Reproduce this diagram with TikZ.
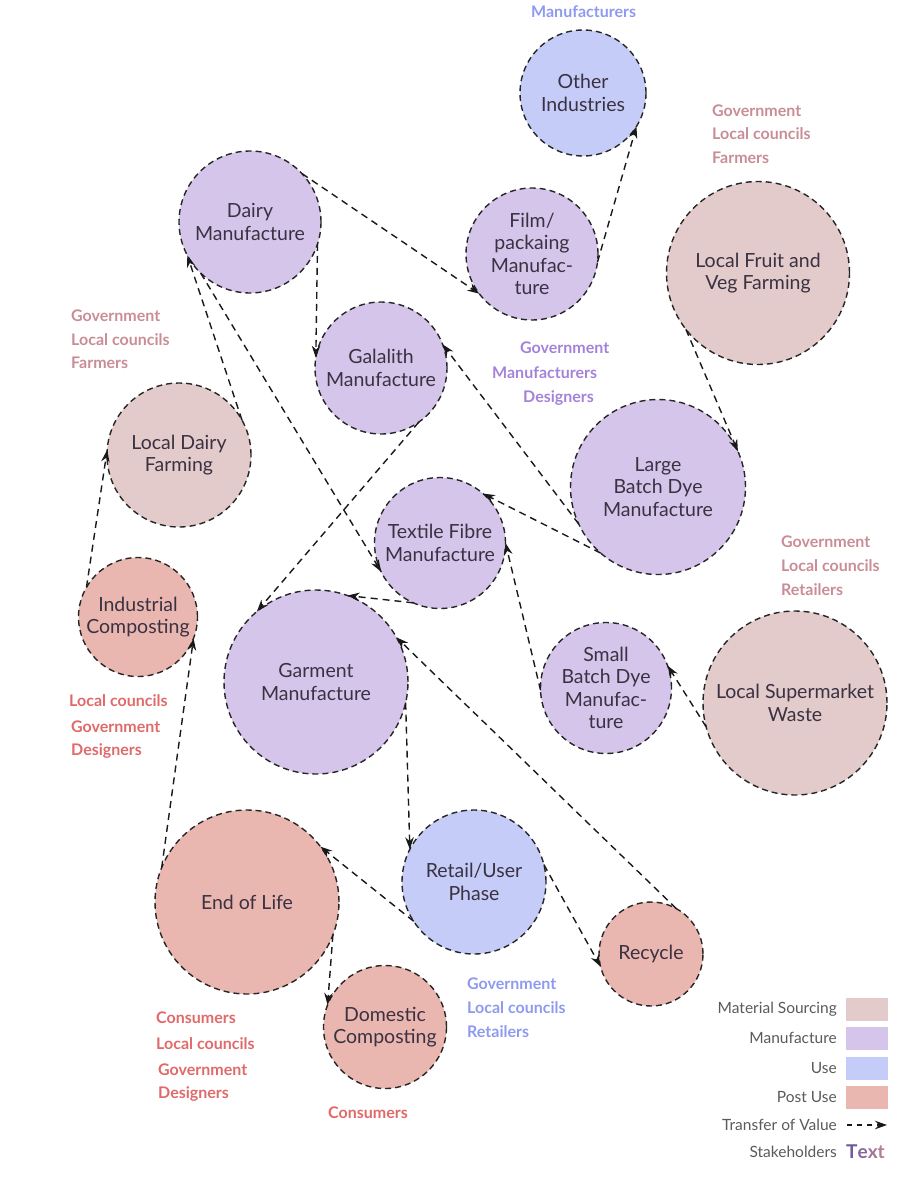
\documentclass[tikz,border=0pt]{standalone}
\usepackage{fontspec}
\setmainfont{Lato}
\usetikzlibrary{arrows.meta}
\definecolor{cmat}{HTML}{E3CACB}
\definecolor{cman}{HTML}{D5C5EA}
\definecolor{cuse}{HTML}{C5CCF8}
\definecolor{cpost}{HTML}{EAB6B0}
\definecolor{tmat}{HTML}{C98D96}
\definecolor{tman}{HTML}{A582D8}
\definecolor{tuse}{HTML}{8E9AF0}
\definecolor{tpost}{HTML}{E06A6A}
\definecolor{ink}{HTML}{3A3242}
\definecolor{leg}{HTML}{5A5A5A}
\tikzset{
  stage/.style={circle, draw=black!85, dash pattern=on 6pt off 4pt, line width=1.4pt,
    inner sep=0pt, outer sep=0pt, align=center, text=ink, font=\fontsize{19.5}{22.5}\selectfont},
  mat/.style={stage, fill=cmat},
  man/.style={stage, fill=cman},
  use/.style={stage, fill=cuse},
  post/.style={stage, fill=cpost},
  flow/.style={draw=black!90, line width=1.4pt, dash pattern=on 7pt off 5pt,
    -{Stealth[length=12pt,width=8.5pt]}},
  holder/.style={anchor=west, inner sep=0pt, font=\bfseries\fontsize{16}{18}\selectfont},
  legtext/.style={anchor=east, inner sep=0pt, text=leg, font=\fontsize{15.5}{18}\selectfont},
  swatch/.style={minimum width=42pt, minimum height=23pt, inner sep=0pt, draw=none},
}
\begin{document}
\begin{tikzpicture}[x=1pt,y=-1pt]
\useasboundingbox (0,0) rectangle (921,1200);

% stages
\node[use, minimum size=126pt] (oth) at (583,93) {Other\\Industries};
\node[man, minimum size=132pt] (film) at (532,254) {Film/\\packaing\\Manufac-\\ture};
\node[mat, minimum size=183pt] (fruit) at (758,273) {Local Fruit and\\Veg Farming};
\node[man, minimum size=142pt] (dairy) at (250,222) {Dairy\\Manufacture};
\node[man, minimum size=132pt] (gal) at (381,368) {Galalith\\Manufacture};
\node[mat, minimum size=144pt] (ldf) at (179,455) {Local Dairy\\Farming};
\node[man, minimum size=175pt] (large) at (658,487) {Large\\Batch Dye\\Manufacture};
\node[man, minimum size=131pt] (tex) at (440,543) {Textile Fibre\\Manufacture};
\node[man, minimum size=131pt] (small) at (606,688) {Small\\Batch Dye\\Manufac-\\ture};
\node[mat, minimum size=184pt] (super) at (795,703) {Local Supermarket\\Waste};
\node[post, minimum size=119pt] (ind) at (138,617) {Industrial\\Composting};
\node[man, minimum size=184pt] (gar) at (316,682) {Garment\\Manufacture};
\node[use, minimum size=144pt] (ret) at (474,882) {Retail/User\\Phase};
\node[post, minimum size=184pt] (eol) at (247,902) {End of Life};
\node[post, minimum size=104pt] (rec) at (651,954) {Recycle};
\node[post, minimum size=123pt] (dom) at (385,1027) {Domestic\\Composting};

% transfers of value
\draw[flow] (film.-7) -- (oth.-32);
\draw[flow] (dairy.43) -- (film.217);
\draw[flow] (dairy.-18) -- (gal.171);
\draw[flow] (ldf.29) -- (dairy.208);
\draw[flow] (dairy.226) -- (tex.206);
\draw[flow] (large.205) -- (gal.21);
\draw[flow] (large.229) -- (tex.49);
\draw[flow] (fruit.218) -- (large.24);
\draw[flow] (small.182) -- (tex.0);
\draw[flow] (super.195) -- (small.20);
\draw[flow] (gal.-55) -- (gar.130);
\draw[flow] (tex.246) -- (gar.70);
\draw[flow] (rec.61) -- (gar.29);
\draw[flow] (gar.-13) -- (ret.153);
\draw[flow] (ret.213) -- (eol.37);
\draw[flow] (ret.14) -- (rec.194);
\draw[flow] (eol.-21) -- (dom.159);
\draw[flow] (eol.158) -- (ind.-21);
\draw[flow] (ind.150) -- (ldf.176);

% stakeholders
\node[holder, text=tuse] (s1) at (531,12) {Manufacturers};
\node[holder, text=tmat] (s2) at (712,111) {Government};
\node[holder, text=tmat] (s3) at (712,134) {Local councils};
\node[holder, text=tmat] (s4) at (712,158) {Farmers};
\node[holder, text=tmat] (s5) at (71,316) {Government};
\node[holder, text=tmat] (s6) at (71,340) {Local councils};
\node[holder, text=tmat] (s7) at (71,363) {Farmers};
\node[holder, text=tman] (s8) at (520,348) {Government};
\node[holder, text=tman] (s9) at (492,373) {Manufacturers};
\node[holder, text=tman] (s10) at (523,398) {Designers};
\node[holder, text=tmat] (s11) at (781,542) {Government};
\node[holder, text=tmat] (s12) at (781,566) {Local councils};
\node[holder, text=tmat] (s13) at (781,590) {Retailers};
\node[holder, text=tpost] (s14) at (69,701) {Local councils};
\node[holder, text=tpost] (s15) at (71,727) {Government};
\node[holder, text=tpost] (s16) at (71,751) {Designers};
\node[holder, text=tpost] (s17) at (156,1018) {Consumers};
\node[holder, text=tpost] (s18) at (156,1044) {Local councils};
\node[holder, text=tpost] (s19) at (158,1070) {Government};
\node[holder, text=tpost] (s20) at (158,1094) {Designers};
\node[holder, text=tpost] (s21) at (328,1113) {Consumers};
\node[holder, text=tuse] (s22) at (467,984) {Government};
\node[holder, text=tuse] (s23) at (467,1008) {Local councils};
\node[holder, text=tuse] (s24) at (467,1032) {Retailers};

% legend
\node[legtext] (l1) at (837,1009) {Material Sourcing};
\node[legtext] (l2) at (837,1038) {Manufacture};
\node[legtext] (l3) at (837,1068) {Use};
\node[legtext] (l4) at (837,1097) {Post Use};
\node[legtext] (l5) at (837,1125) {Transfer of Value};
\node[legtext] (l6) at (837,1152) {Stakeholders};
\node[swatch, fill=cmat] (w1) at (867,1009) {};
\node[swatch, fill=cman] (w2) at (867,1038) {};
\node[swatch, fill=cuse] (w3) at (867,1068) {};
\node[swatch, fill=cpost] (w4) at (867,1097) {};
\coordinate (la) at (847,1125);
\coordinate (lb) at (887,1125);
\draw[flow, dash pattern=on 5pt off 5pt] (la) -- (lb);
\node[anchor=west, inner sep=0pt, font=\bfseries\fontsize{19}{20}\selectfont] (w6) at (846,1152)
  {\textcolor[HTML]{6E5A9E}{T}\textcolor[HTML]{86669C}{e}\textcolor[HTML]{A07498}{x}\textcolor[HTML]{B67E94}{t}};
\end{tikzpicture}
\end{document}
